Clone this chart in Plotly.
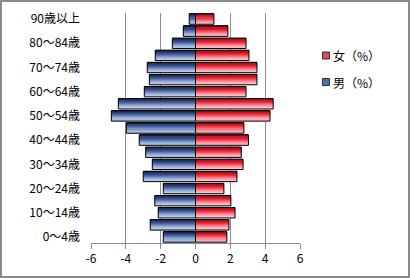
import plotly.graph_objects as go

ages = ["0～4歳", "5～9歳", "10～14歳", "15～19歳", "20～24歳", "25～29歳", "30～34歳",
        "35～39歳", "40～44歳", "45～49歳", "50～54歳", "55～59歳", "60～64歳", "65～69歳",
        "70～74歳", "75～79歳", "80～84歳", "85～89歳", "90歳以上"]
male = [-1.85, -2.60, -2.14, -2.34, -1.85, -3.00, -2.48, -2.86, -3.23, -3.97,
        -4.83, -4.43, -2.94, -2.65, -2.77, -2.31, -1.33, -0.70, -0.36]
female = [1.80, 1.92, 2.27, 2.03, 1.63, 2.38, 2.73, 2.63, 3.04, 2.78,
          4.28, 4.46, 2.90, 3.53, 3.53, 3.07, 2.90, 1.86, 1.06]
xticks = [-6, -4, -2, 0, 2, 4, 6]
xticklabels = ["-6", "-4", "-2", "0", "2", "4", "6"]
names = ["女（%）", "男（%）"]

FONT = "Noto Sans CJK JP"
W = 0.86
N = 10


def lerp(c1, c2, t):
    return tuple(a + (b - a) * t for a, b in zip(c1, c2))


# gradient stops: (position, colour) from bottom (light) to top (dark)
grad = {
    "m": [(0.0, (218, 225, 240)), (0.35, (150, 170, 210)), (0.7, (60, 85, 145)), (1.0, (20, 38, 92))],
    "f": [(0.0, (250, 228, 234)), (0.35, (240, 150, 162)), (0.7, (225, 40, 55)), (1.0, (188, 0, 15))],
}


def color_at(key, t):
    stops = grad[key]
    for (p0, c0), (p1, c1) in zip(stops[:-1], stops[1:]):
        if t <= p1:
            c = lerp(c0, c1, (t - p0) / (p1 - p0))
            break
    else:
        c = stops[-1][1]
    return "rgb(%d,%d,%d)" % tuple(round(v) for v in c)


fig = go.Figure()
for key, vals, nm in (("m", male, names[1]), ("f", female, names[0])):
    for i in range(N):
        t = (i + 0.5) / N
        fig.add_trace(go.Bar(
            x=vals, y=ages, orientation="h", name=nm,
            width=W / N, offset=-W / 2 + i * W / N,
            marker=dict(color=color_at(key, t), line=dict(width=0)),
            showlegend=False, hoverinfo="skip"))
    fig.add_trace(go.Bar(
        x=vals, y=ages, orientation="h", width=W, offset=-W / 2, name=nm,
        marker=dict(color="rgba(0,0,0,0)", line=dict(color="black", width=1)),
        showlegend=False))

l, r, t, b = 91, 110, 13, 35
pw, ph = 410 - l - r, 278 - t - b


def px(x):
    return (x - l) / pw


def py(y):
    return (278 - b - y) / ph


shapes = [dict(type="rect", xref="paper", yref="paper",
               x0=px(1), x1=px(409), y0=py(277), y1=py(1),
               line=dict(color="#8a8a8a", width=2), fillcolor="rgba(0,0,0,0)")]
annotations = []
for nm, key, yc in ((names[0], "f", 55.5), (names[1], "m", 82)):
    shapes.append(dict(type="rect", xref="paper", yref="paper",
                       x0=px(322.5), x1=px(329.5), y0=py(yc + 3.5), y1=py(yc - 3.5),
                       line=dict(color="#333333", width=1), fillcolor=color_at(key, 0.6)))
    annotations.append(dict(xref="paper", yref="paper", x=px(331), y=py(yc),
                            xanchor="left", yanchor="middle", showarrow=False,
                            text=nm, font=dict(family=FONT, size=12, color="black")))

fig.update_layout(
    width=410, height=278,
    margin=dict(l=l, r=r, t=t, b=b, pad=0, autoexpand=False),
    paper_bgcolor="white", plot_bgcolor="white",
    barmode="overlay", showlegend=False,
    font=dict(family=FONT, size=11, color="black"),
    xaxis=dict(range=[-6, 6], tickvals=xticks, ticktext=xticklabels,
               showgrid=True, gridcolor="#8c8c8c", gridwidth=1,
               zeroline=True, zerolinecolor="#8c8c8c", zerolinewidth=1,
               showline=True, linecolor="#8c8c8c", linewidth=1,
               ticks="outside", ticklen=5, tickcolor="#8c8c8c",
               tickfont=dict(family=FONT, size=12), fixedrange=True),
    yaxis=dict(type="category", categoryorder="array", categoryarray=ages,
               range=[-0.5, len(ages) - 0.5],
               tickvals=ages[::2], ticktext=ages[::2],
               showgrid=False, zeroline=False, showline=False,
               ticks="", ticklabelstandoff=10,
               tickfont=dict(family=FONT, size=12), fixedrange=True),
    shapes=shapes, annotations=annotations,
)

fig.write_html("out.html")
